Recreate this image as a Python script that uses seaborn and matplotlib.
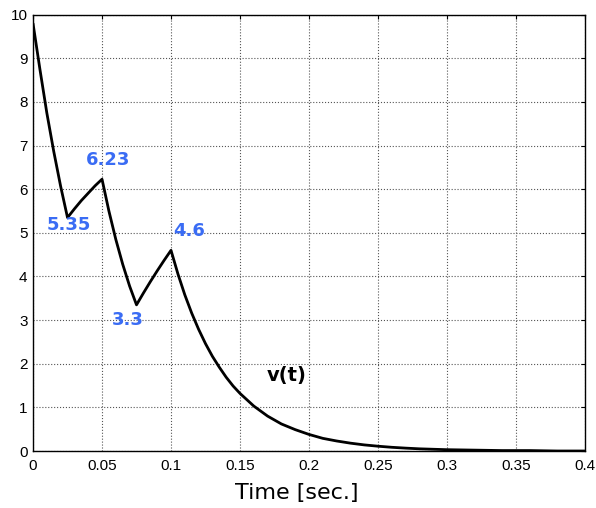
import numpy as np
import matplotlib
matplotlib.use('Agg')
import matplotlib.pyplot as plt
import seaborn as sns
import pandas as pd

# values
time_s = [0.0, 0.005, 0.01, 0.015, 0.02, 0.025,
          0.03, 0.035, 0.04, 0.045, 0.05,
          0.055, 0.06, 0.065, 0.07, 0.075,
          0.08, 0.085, 0.09, 0.095, 0.1,
          0.105, 0.11, 0.115, 0.12, 0.125, 0.13, 0.135, 0.14, 0.145, 0.15,
          0.16, 0.17, 0.18, 0.19, 0.2, 0.21, 0.22, 0.23, 0.24, 0.25,
          0.26, 0.27, 0.28, 0.29, 0.3, 0.32, 0.34, 0.36, 0.38, 0.4]
v_t = [9.8, 8.75, 7.75, 6.87, 6.07, 5.35,
       5.55, 5.74, 5.91, 6.08, 6.23,
       5.5, 4.85, 4.28, 3.78, 3.35,
       3.62, 3.88, 4.13, 4.37, 4.6,
       4.06, 3.58, 3.16, 2.79, 2.46, 2.17, 1.92, 1.69, 1.49, 1.32,
       1.03, 0.8, 0.62, 0.49, 0.38, 0.29, 0.23, 0.18, 0.14, 0.11,
       0.085, 0.066, 0.05, 0.04, 0.03, 0.02, 0.01, 0.01, 0.0, 0.0]

# handwritten notes on the plot
note_text = ['6.23', '5.35', '4.6', '3.3']
note_x = [0.0546, 0.0256, 0.1133, 0.0687]
note_y = [6.67, 5.17, 5.04, 3.0]

x_ticks = [0, 0.05, 0.1, 0.15, 0.2, 0.25, 0.3, 0.35, 0.4]
x_tick_labels = ['0', '0.05', '0.1', '0.15', '0.2', '0.25', '0.3', '0.35', '0.4']
y_ticks = list(range(0, 11))

df = pd.DataFrame({'t': time_s, 'v': v_t})

sns.set_style('white')
plt.rcParams['font.family'] = ['Liberation Sans', 'DejaVu Sans']

fig = plt.figure(figsize=(5.96, 5.08), dpi=100)
ax = fig.add_axes([0.0554, 0.1122, 0.9261, 0.8588])

sns.lineplot(data=df, x='t', y='v', color='black', linewidth=2, ax=ax)

ax.set_xlim(0, 0.4)
ax.set_ylim(0, 10)
ax.set_xticks(x_ticks)
ax.set_xticklabels(x_tick_labels)
ax.set_yticks(y_ticks)
ax.set_xlabel('')
ax.set_ylabel('')
ax.grid(True, linestyle=':', color='#555555', linewidth=0.8)
ax.tick_params(direction='in', length=3, width=0.8, labelsize=11,
               top=True, right=True, colors='black')
ax.tick_params(axis='x', pad=6)
ax.tick_params(axis='y', pad=4)
for s in ax.spines.values():
    s.set_visible(True)
    s.set_color('black')
    s.set_linewidth(1.0)

for txt, x, y in zip(note_text, note_x, note_y):
    ax.text(x, y, txt, color='#3a6cf4', fontsize=13, fontweight='bold',
            family='DejaVu Sans', ha='center', va='center')

ax.text(0.184, 1.73, 'v(t)', color='black', fontsize=14, fontweight='bold',
        family='DejaVu Sans', ha='center', va='center')

fig.text(297 / 596, 1 - 493 / 508, 'Time [sec.]', color='black', fontsize=16,
         family='DejaVu Sans', ha='center', va='center')

fig.savefig('out.png', dpi=100)
